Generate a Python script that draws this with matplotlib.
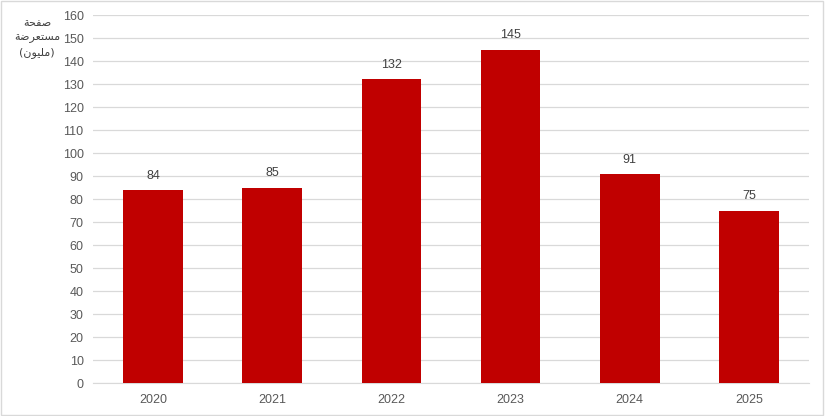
import matplotlib.pyplot as plt
from matplotlib.patches import Rectangle

years = ["2020", "2021", "2022", "2023", "2024", "2025"]
pages = [84, 85, 132, 145, 91, 75]
yticks = list(range(0, 161, 10))

# Arabic label in presentation forms, visual order (matplotlib has no shaping)
ylabel_lines = [
    "\uFE94\uFEA4\uFED4\uFEBB",
    "\uFE94\uFEBF\uFEAE\uFECC\uFE98\uFEB4\uFEE3",
    "(\uFEE5\uFEEE\uFEF4\uFEE0\uFEE3)",
]

grey = "#595959"
plt.rcParams["font.family"] = ["Liberation Sans", "DejaVu Sans"]

fig = plt.figure(figsize=(8.25, 4.16), dpi=100)
ax = fig.add_axes([0.1132, 0.0793, 0.8668, 0.8846])

x = range(len(years))
ax.bar(x, pages, width=0.5, color="#C00000", zorder=3)
for xi, v in zip(x, pages):
    ax.text(xi, v + 3.5, str(v), ha="center", va="bottom", fontsize=9, color="#404040")

ax.set_xlim(-0.5, len(years) - 0.5)
ax.set_ylim(0, 160)
ax.set_yticks(yticks)
ax.set_xticks(list(x))
ax.set_xticklabels(years)
ax.tick_params(axis="both", length=0, labelsize=9, labelcolor=grey)
ax.tick_params(axis="y", pad=7)
ax.tick_params(axis="x", pad=8)
ax.grid(axis="y", color="#D9D9D9", linewidth=0.9, zorder=0)
for s in ["top", "right", "left"]:
    ax.spines[s].set_visible(False)
ax.spines["bottom"].set_color("#D9D9D9")

for i, line in enumerate(ylabel_lines):
    fig.text(37 / 825, 1 - (23 + 15 * i) / 416, line, ha="center", va="center",
             fontsize=8, color="#404040", family=["DejaVu Sans"])

fig.patches.append(Rectangle((0.001, 0.002), 0.997, 0.995, transform=fig.transFigure,
                             fill=False, edgecolor="#D9D9D9", linewidth=1))

fig.savefig("out.png", dpi=100)
